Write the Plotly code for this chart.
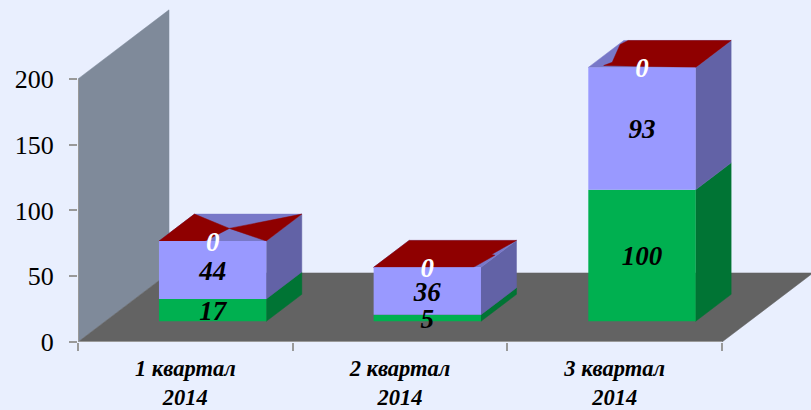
import plotly.graph_objects as go

# ---- data ----
categories = ["1 квартал<br>2014", "2 квартал<br>2014", "3 квартал<br>2014"]
series_green = [17, 5, 100]
series_violet = [44, 36, 93]
series_red = [0, 0, 0]
y_ticks = [0, 50, 100, 150, 200]

# ---- oblique projection ----
DEPTH_X = 0.424      # category units for the full floor depth
DEPTH_Y = 52.5       # value units for the full floor depth
FRONT, BACK = 0.30, 0.69
BAR_W = 0.5
X_MAX = 733 / 214.67
Y_MAX = 260
LABEL_DROP = 2.4     # data labels sit slightly below the segment centres


def proj(x, y, d):
    return x + d * DEPTH_X, y + d * DEPTH_Y


def poly(points, color, xaxis="x", yaxis="y"):
    xs = [p[0] for p in points] + [points[0][0]]
    ys = [p[1] for p in points] + [points[0][1]]
    return go.Scatter(x=xs, y=ys, mode="lines", fill="toself", fillcolor=color,
                      line=dict(color=color, width=0.5), hoverinfo="skip",
                      showlegend=False, xaxis=xaxis, yaxis=yaxis)


C_BG = "#E9EFFE"
C_WALL = "#7F8A9A"
C_FLOOR = "#636363"
C_AXIS = "#999999"
C_GREEN, C_GREEN_SIDE = "#00B050", "#007434"
C_VIOLET, C_VIOLET_SIDE = "#9999FF", "#6262A6"
C_TOP = "#7878C8"
C_RED = "#8F0000"
FONT = "Liberation Serif"

fig = go.Figure()

# wall and floor
fig.add_trace(poly([proj(0, 0, 0), proj(0, 200, 0), proj(0, 200, 1), proj(0, 0, 1)], C_WALL))
fig.add_trace(poly([proj(0, 0, 0), proj(3, 0, 0), proj(3, 0, 1), proj(0, 0, 1)], C_FLOOR))

# axis lines
fig.add_trace(go.Scatter(x=[0, 0], y=[0, y_ticks[-1]], mode="lines", line=dict(color=C_AXIS, width=2),
                         hoverinfo="skip", showlegend=False))
fig.add_trace(go.Scatter(x=[0, 3], y=[0, 0], mode="lines", line=dict(color=C_AXIS, width=2),
                         hoverinfo="skip", showlegend=False))

# how the zero-height red series shows through the violet roof, as (across, depth) fractions
roof_red = [
    [[(0, 0), (0, 1), (0.50, 0.47), (0.43, 0)], [(1, 0), (1, 1), (0.50, 0.47)]],
    [[(0, 0), (0, 1), (1, 1), (0.94, 0.48), (0.98, 0.45), (0.94, 0.08), (0.93, 0)]],
    [[(0.015, 0.85), (0.04, 1), (1, 1), (1, 0), (0.12, 0.07), (0.16, 0.19)]],
]

offs = []
for i in range(3):
    cx = i + 0.5
    offs.append(cx)
    left, right = cx - BAR_W / 2, cx + BAR_W / 2
    g, v = series_green[i], series_violet[i]
    # sides
    fig.add_trace(poly([proj(right, 0, FRONT), proj(right, g, FRONT), proj(right, g, BACK), proj(right, 0, BACK)], C_GREEN_SIDE))
    fig.add_trace(poly([proj(right, g, FRONT), proj(right, g + v, FRONT), proj(right, g + v, BACK), proj(right, g, BACK)], C_VIOLET_SIDE))
    # roof
    h = g + v + series_red[i]
    fig.add_trace(poly([proj(left, h, FRONT), proj(right, h, FRONT), proj(right, h, BACK), proj(left, h, BACK)], C_TOP))
    for shape in roof_red[i]:
        pts = [proj(left + u * BAR_W, h, FRONT + w * (BACK - FRONT)) for u, w in shape]
        fig.add_trace(poly(pts, C_RED))

# front faces and labels on an overlay so they sit above the floor
front_x = [proj(c, 0, FRONT)[0] for c in offs]
front_base = proj(0, 0, FRONT)[1]
base_g = [front_base] * 3
base_v = [front_base + g for g in series_green]
fig.add_trace(go.Bar(x=front_x, y=series_green, base=base_g, width=BAR_W, marker=dict(color=C_GREEN, line_width=0),
                     xaxis="x2", yaxis="y2", showlegend=False, hoverinfo="skip"))
fig.add_trace(go.Bar(x=front_x, y=series_violet, base=base_v, width=BAR_W, marker=dict(color=C_VIOLET, line_width=0),
                     xaxis="x2", yaxis="y2", showlegend=False, hoverinfo="skip"))

label_font = dict(family=FONT, size=27, color="black", weight="bold", style="italic")
fig.add_trace(go.Scatter(x=front_x, y=[b + g / 2 - LABEL_DROP for b, g in zip(base_g, series_green)],
                         text=[str(g) for g in series_green], mode="text", textposition="middle center",
                         textfont=label_font, xaxis="x2", yaxis="y2", showlegend=False, hoverinfo="skip"))
fig.add_trace(go.Scatter(x=front_x, y=[b + v / 2 - LABEL_DROP for b, v in zip(base_v, series_violet)],
                         text=[str(v) for v in series_violet], mode="text", textposition="middle center",
                         textfont=label_font, xaxis="x2", yaxis="y2", showlegend=False, hoverinfo="skip"))
fig.add_trace(go.Scatter(x=front_x, y=[b + v - LABEL_DROP for b, v in zip(base_v, series_violet)],
                         text=[str(r) for r in series_red], mode="text", textposition="middle center",
                         textfont=dict(family=FONT, size=27, color="white", weight="bold", style="italic"),
                         xaxis="x2", yaxis="y2", showlegend=False, hoverinfo="skip"))

fig.update_layout(
    width=811, height=410,
    margin=dict(l=78, r=0, t=0, b=68, autoexpand=False),
    paper_bgcolor=C_BG, plot_bgcolor=C_BG,
    barmode="overlay", showlegend=False,
    xaxis=dict(range=[0, X_MAX], tickmode="array", tickvals=offs, ticktext=categories,
               ticks="", showgrid=False, zeroline=False, showline=False, ticklabelstandoff=10,
               automargin=False,
               tickfont=dict(family=FONT, size=22.5, color="black", weight="bold", style="italic"),
               minor=dict(tickmode="array", tickvals=[0, 1, 2, 3], ticks="outside", ticklen=8,
                          tickwidth=2, tickcolor=C_AXIS, showgrid=False)),
    yaxis=dict(range=[0, Y_MAX], tickmode="array", tickvals=y_ticks, ticks="outside", ticklen=8,
               tickwidth=2, tickcolor=C_AXIS, showgrid=False, zeroline=False, showline=False,
               ticklabelstandoff=10, automargin=False,
               tickfont=dict(family=FONT, size=26, color="black")),
    xaxis2=dict(range=[0, X_MAX], overlaying="x", visible=False, matches="x"),
    yaxis2=dict(range=[0, Y_MAX], overlaying="y", visible=False, matches="y"),
)

fig.write_html("out.html", config=dict(displayModeBar=False),
               post_script="document.body.style.margin='0';document.body.style.overflow='hidden';document.body.style.background='#E9EFFE';")
